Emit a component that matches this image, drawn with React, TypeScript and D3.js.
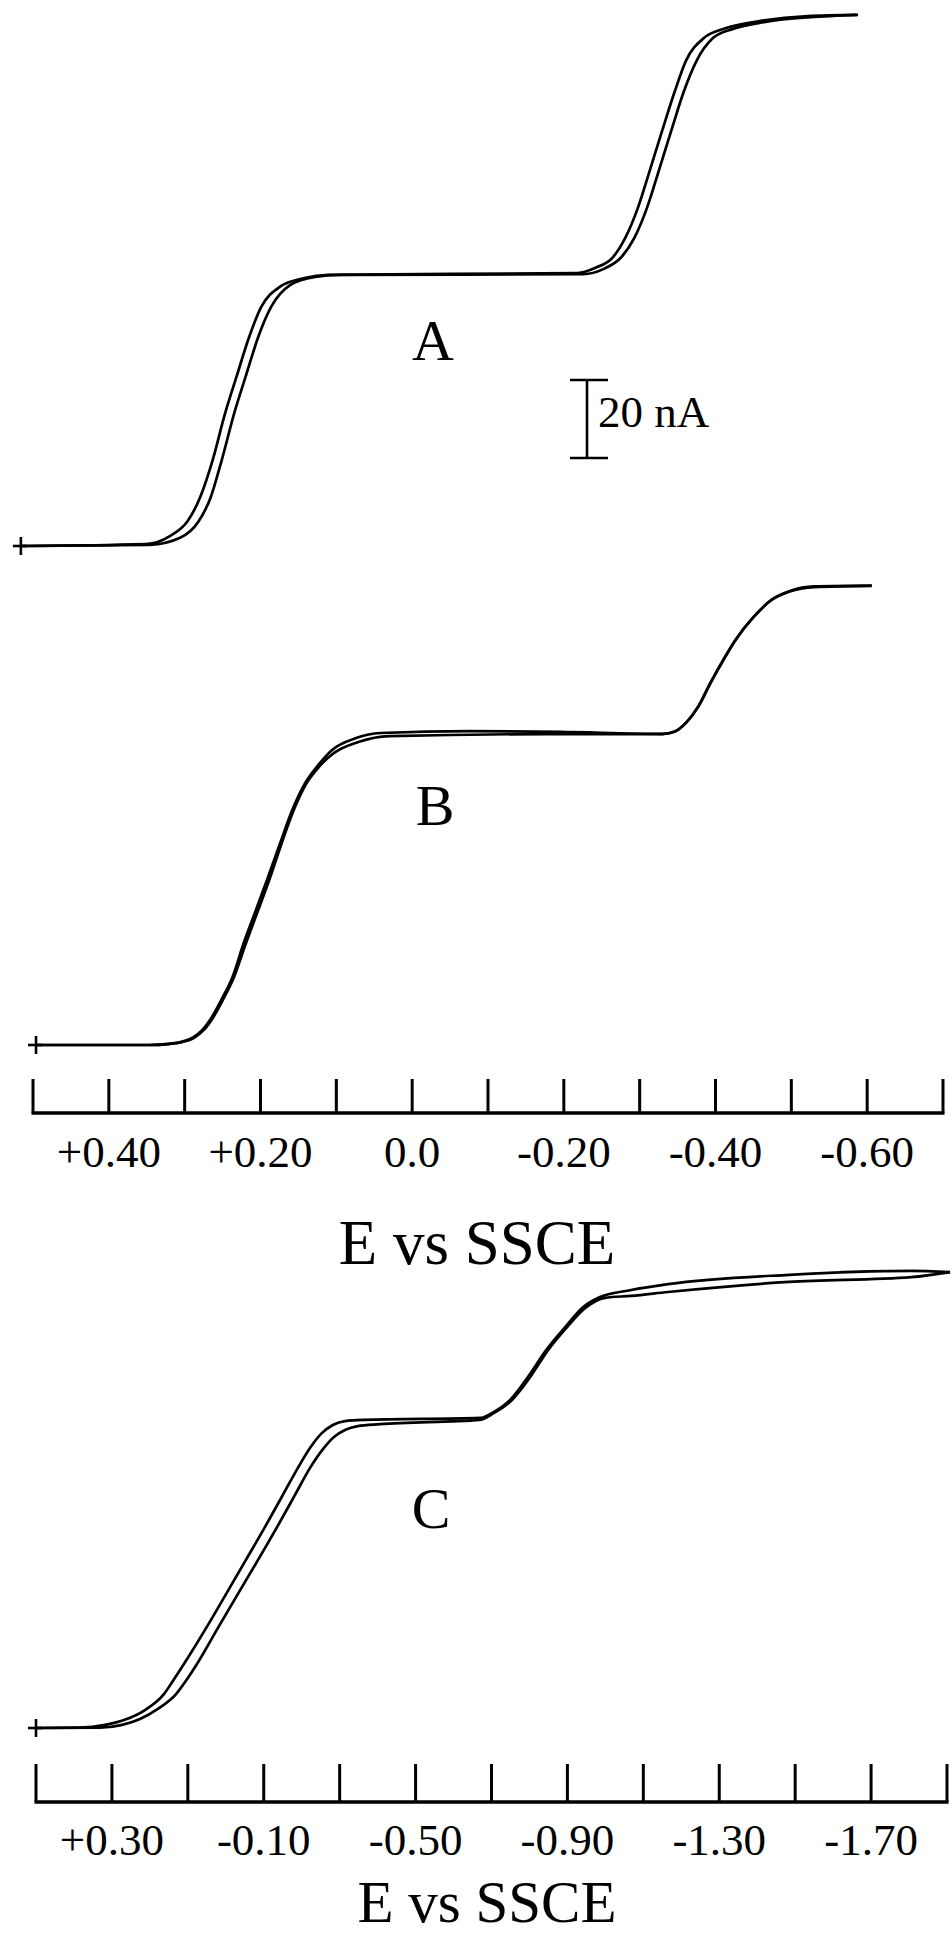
import React from "react";
import * as d3 from "d3";

// ---------- data (E in V vs SSCE, i in nA above each trace's own baseline) ----------
const traceA1: [number, number][] = [
  [0.516, 0], [0.351, 0.5], [0.319, 2.6], [0.296, 6.4], [0.28, 12.3], [0.263, 22.1],
  [0.247, 33.8], [0.231, 43.8], [0.215, 53.6], [0.199, 61.3], [0.175, 66.4], [0.142, 68.7],
  [0.111, 69.5], [-0.218, 70.0], [-0.241, 71.3], [-0.265, 74.1], [-0.281, 79.0], [-0.298, 86.9],
  [-0.314, 96.7], [-0.33, 106.7], [-0.346, 116.4], [-0.361, 124.4], [-0.385, 130.3],
  [-0.414, 132.8], [-0.458, 134.6], [-0.522, 135.9], [-0.586, 136.2],
];
const traceA2: [number, number][] = [
  [0.516, 0], [0.346, 0.3], [0.306, 2.1], [0.282, 6.2], [0.266, 12.3], [0.251, 22.1],
  [0.235, 33.8], [0.219, 43.8], [0.203, 53.6], [0.186, 61.3], [0.161, 66.9], [0.128, 69.0],
  [0.095, 69.5], [-0.226, 69.7], [-0.252, 71.0], [-0.276, 74.1], [-0.293, 79.0], [-0.31, 86.9],
  [-0.326, 96.7], [-0.342, 106.7], [-0.358, 116.4], [-0.375, 124.4], [-0.397, 130.3],
  [-0.423, 132.6], [-0.466, 134.4], [-0.525, 135.6], [-0.588, 136.2],
];
const traceB1: [number, number][] = [
  [0.496, 0], [0.346, 0.0], [0.32, 0.3], [0.303, 0.8], [0.288, 1.8], [0.275, 3.8],
  [0.262, 7.2], [0.249, 11.8], [0.235, 17.4], [0.219, 26.2], [0.203, 34.6], [0.187, 43.1],
  [0.172, 51.8], [0.156, 60.3], [0.139, 67.2], [0.123, 71.3], [0.103, 74.9], [0.071, 77.7],
  [0.03, 79.2], [-0.177, 79.7], [-0.33, 79.7], [-0.346, 80.3], [-0.361, 82.6], [-0.377, 86.7],
  [-0.393, 92.8], [-0.41, 98.7], [-0.426, 103.8], [-0.45, 109.7], [-0.474, 114.1], [-0.497, 116.2],
  [-0.53, 117.4], [-0.606, 117.7],
];
const traceB2: [number, number][] = [
  [0.496, 0], [0.346, 0.0], [0.32, 0.3], [0.304, 0.8], [0.29, 1.8], [0.277, 3.8],
  [0.264, 7.2], [0.251, 11.8], [0.237, 17.4], [0.222, 26.2], [0.206, 34.6], [0.19, 43.1],
  [0.174, 51.8], [0.158, 60.3], [0.141, 67.2], [0.125, 71.5], [0.106, 75.6], [0.074, 78.7],
  [0.042, 80.0], [-0.077, 80.5], [-0.195, 80.3], [-0.33, 79.8], [-0.346, 80.4], [-0.362, 82.8],
  [-0.378, 87.0], [-0.394, 93.0], [-0.411, 98.9], [-0.427, 104.0], [-0.451, 109.9], [-0.475, 114.3],
  [-0.498, 116.4], [-0.53, 117.6], [-0.606, 117.8],
];
const traceC1: [number, number][] = [
  [0.5, 0], [0.384, 0.1], [0.318, 0.8], [0.266, 2.1], [0.213, 4.6], [0.163, 8.7],
  [0.139, 12.1], [0.107, 16.9], [0.052, 25.6], [-0.001, 34.4], [-0.053, 43.1], [-0.103, 51.5],
  [-0.15, 59.7], [-0.19, 66.7], [-0.224, 72.1], [-0.253, 75.6], [-0.282, 77.7], [-0.314, 78.7],
  [-0.364, 79.0], [-0.67, 79.5], [-0.702, 80.8], [-0.749, 84.1], [-0.796, 90.0], [-0.844, 96.9],
  [-0.894, 102.8], [-0.941, 107.9], [-0.986, 110.5], [-1.068, 112.3], [-1.165, 113.8],
  [-1.484, 116.2], [-1.806, 117.2], [-1.908, 116.9],
];
const traceC2: [number, number][] = [
  [0.5, 0], [0.331, 0.1], [0.273, 0.8], [0.226, 2.3], [0.179, 4.9], [0.131, 8.7],
  [0.105, 12.1], [0.076, 16.4], [0.021, 25.6], [-0.032, 34.4], [-0.085, 43.1], [-0.135, 51.5],
  [-0.182, 59.7], [-0.222, 66.7], [-0.256, 71.5], [-0.285, 74.6], [-0.314, 76.4], [-0.348, 77.4],
  [-0.406, 77.9], [-0.67, 79.0], [-0.707, 80.8], [-0.754, 84.1], [-0.802, 90.0], [-0.849, 96.9],
  [-0.899, 102.8], [-0.947, 107.7], [-0.999, 110.3], [-1.068, 110.8], [-1.165, 111.8],
  [-1.484, 114.4], [-1.806, 115.6], [-1.908, 116.9],
];

const ticksAB = [0.5, 0.4, 0.3, 0.2, 0.1, 0.0, -0.1, -0.2, -0.3, -0.4, -0.5, -0.6, -0.7];
const labelValuesAB = [0.4, 0.2, 0.0, -0.2, -0.4, -0.6];
const labelTextAB = ["+0.40", "+0.20", "0.0", "-0.20", "-0.40", "-0.60"];
const ticksC = [0.5, 0.3, 0.1, -0.1, -0.3, -0.5, -0.7, -0.9, -1.1, -1.3, -1.5, -1.7, -1.9];
const labelValuesC = [0.3, -0.1, -0.5, -0.9, -1.3, -1.7];
const labelTextC = ["+0.30", "-0.10", "-0.50", "-0.90", "-1.30", "-1.70"];
const axisTitle = "E vs SSCE";
const scaleBarValue = 20; // nA
const scaleBarLabel = "20 nA";

// ---------- layout ----------
const W = 952;
const H = 1937;
const PX_PER_NA = 3.9;
const FONT = "'Liberation Serif', 'Times New Roman', Times, serif";

export default function App() {
  const xAB = d3.scaleLinear().domain([0.5, -0.7]).range([33, 943]);
  const xC = d3.scaleLinear().domain([0.5, -1.9]).range([36, 947]);
  const yA = d3.scaleLinear().domain([0, 140]).range([546, 546 - 140 * PX_PER_NA]);
  const yB = d3.scaleLinear().domain([0, 140]).range([1045, 1045 - 140 * PX_PER_NA]);
  const yC = d3.scaleLinear().domain([0, 140]).range([1728, 1728 - 140 * PX_PER_NA]);

  const mk = (x: d3.ScaleLinear<number, number>, y: d3.ScaleLinear<number, number>) =>
    d3
      .line<[number, number]>()
      .x((d) => x(d[0]))
      .y((d) => y(d[1]))
      .curve(d3.curveMonotoneX);

  const lineA = mk(xAB, yA);
  const lineB = mk(xAB, yB);
  const lineC = mk(xC, yC);

  const traces = [
    { d: lineA(traceA1), k: "a1" },
    { d: lineA(traceA2), k: "a2" },
    { d: lineB(traceB1), k: "b1" },
    { d: lineB(traceB2), k: "b2" },
    { d: lineC(traceC1), k: "c1" },
    { d: lineC(traceC2), k: "c2" },
  ];

  const starts = [
    { x: xAB(traceA1[0][0]), y: yA(0) },
    { x: xAB(traceB1[0][0]), y: yB(0) },
    { x: xC(traceC1[0][0]), y: yC(0) },
  ];

  const axis = (
    x: d3.ScaleLinear<number, number>,
    ticks: number[],
    labelVals: number[],
    labelTxt: string[],
    y0: number,
    tickLen: number,
    labelY: number,
    key: string
  ) => (
    <g key={key}>
      <line x1={x(ticks[0]) - 1.5} x2={x(ticks[ticks.length - 1]) + 1.5} y1={y0} y2={y0} stroke="#000" strokeWidth={3.4} />
      {ticks.map((t, i) => (
        <line key={i} x1={x(t)} x2={x(t)} y1={y0} y2={y0 - tickLen} stroke="#000" strokeWidth={3} />
      ))}
      {labelVals.map((v, i) => (
        <text key={"l" + i} x={x(v)} y={labelY} textAnchor="middle" fontFamily={FONT} fontSize={45}>
          {labelTxt[i]}
        </text>
      ))}
    </g>
  );

  const sbX = 587;
  const sbBottom = 458;
  const sbTop = sbBottom - (yA(0) - yA(scaleBarValue));

  return (
    <svg
      width={W}
      height={H}
      viewBox={`0 0 ${W} ${H}`}
      style={{ position: "absolute", left: 0, top: 0, background: "#fff" }}
    >
      <rect x={0} y={0} width={W} height={H} fill="#fff" />
      {traces.map((t) => (
        <path key={t.k} d={t.d || ""} fill="none" stroke="#000" strokeWidth={2.7} strokeLinejoin="round" />
      ))}
      {starts.map((s, i) => (
        <g key={"s" + i}>
          <line x1={s.x} x2={s.x} y1={s.y - 9} y2={s.y + 9} stroke="#000" strokeWidth={2.6} />
          <line x1={s.x - 8} x2={s.x + 6} y1={s.y} y2={s.y} stroke="#000" strokeWidth={2.6} />
        </g>
      ))}

      {/* panel labels */}
      <text x={433} y={360} textAnchor="middle" fontFamily={FONT} fontSize={58}>A</text>
      <text x={435} y={825} textAnchor="middle" fontFamily={FONT} fontSize={58}>B</text>
      <text x={431} y={1528} textAnchor="middle" fontFamily={FONT} fontSize={58}>C</text>

      {/* scale bar */}
      <line x1={sbX} x2={sbX} y1={sbTop} y2={sbBottom} stroke="#000" strokeWidth={2.6} />
      <line x1={sbX - 17} x2={sbX + 21} y1={sbTop} y2={sbTop} stroke="#000" strokeWidth={2.6} />
      <line x1={sbX - 17} x2={sbX + 21} y1={sbBottom} y2={sbBottom} stroke="#000" strokeWidth={2.6} />
      <text x={598} y={427} fontFamily={FONT} fontSize={45}>{scaleBarLabel}</text>

      {axis(xAB, ticksAB, labelValuesAB, labelTextAB, 1113, 34, 1167, "ax1")}
      <text x={477} y={1264} textAnchor="middle" fontFamily={FONT} fontSize={63}>{axisTitle}</text>

      {axis(xC, ticksC, labelValuesC, labelTextC, 1802, 38, 1855, "ax2")}
      <text x={487} y={1922} textAnchor="middle" fontFamily={FONT} fontSize={59}>{axisTitle}</text>
    </svg>
  );
}
